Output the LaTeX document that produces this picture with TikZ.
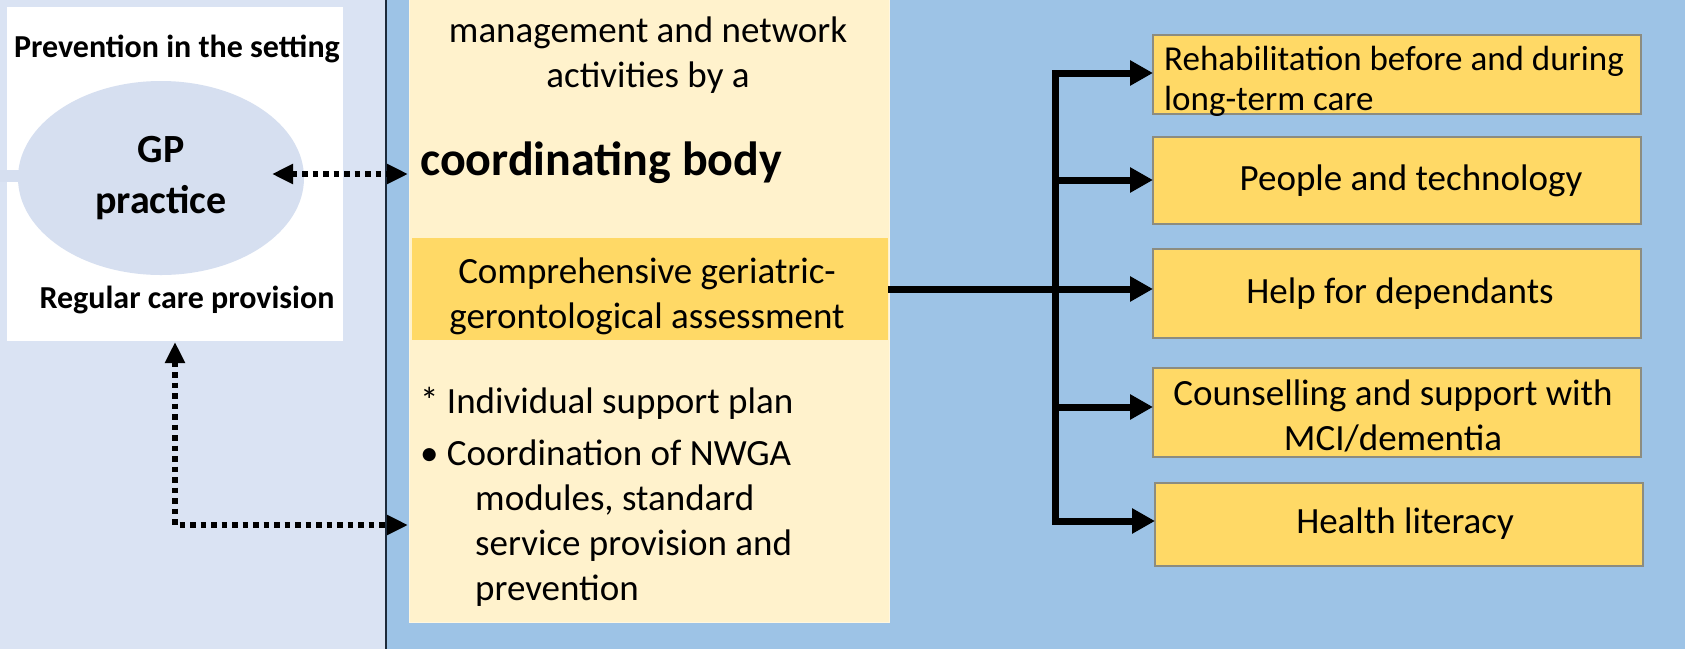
\documentclass[tikz,border=0pt]{standalone}
\usepackage{fontspec}
\setmainfont{Carlito}
\usetikzlibrary{arrows.meta,shapes.geometric}
\definecolor{panel}{HTML}{DAE3F3}
\definecolor{ellfill}{HTML}{D6DFF0}
\definecolor{midblue}{HTML}{9DC3E6}
\definecolor{lightyel}{HTML}{FFF2CC}
\definecolor{gold}{HTML}{FFD966}
\definecolor{boxedge}{HTML}{8C8C80}
\definecolor{divider}{HTML}{1C2A3A}
\begin{document}
\begin{tikzpicture}[x=1pt,y=-1pt,
  area/.style={inner sep=0pt, outer sep=0pt, anchor=north west},
  rbox/.style={area, draw=boxedge, line width=1.2pt, fill=gold, minimum width=488pt},
  t37/.style={inner sep=0pt, anchor=base, font=\fontsize{37}{45}\selectfont},
  t35/.style={inner sep=0pt, anchor=base west, font=\fontsize{35}{42}\selectfont},
  b32/.style={inner sep=0pt, anchor=base, font=\fontsize{32}{38}\selectfont\bfseries},
  b40/.style={inner sep=0pt, anchor=base, font=\fontsize{40}{48}\selectfont\bfseries},
  b48/.style={inner sep=0pt, anchor=base west, font=\fontsize{48}{56}\selectfont\bfseries},
  bigarrow/.style={line width=7pt, line join=miter, -{Triangle[length=23pt,width=24pt]}},
  dotline/.style={line width=5.5pt, dash pattern=on 5.5pt off 5pt},
  dotarrows/.style={{Triangle[length=21pt,width=19pt]}-{Triangle[length=21pt,width=19pt]}}
]
\useasboundingbox (0,0) rectangle (1685,649);
% backgrounds
\fill[panel] (0,0) rectangle (386,649);
\fill[midblue] (386,0) rectangle (1685,649);
\draw[divider, line width=2pt] (386,0) -- (386,649);

% left panel
\node[area, fill=white, minimum width=336pt, minimum height=334pt] (setting) at (7,7) {};
\fill[ellfill] (0,170) rectangle (20,182);
\node[ellipse, fill=ellfill, inner sep=0pt, minimum width=286pt, minimum height=194pt] (gp) at (161,178) {};
\node[b32] (prev) at (177,57) {Prevention in the setting};
\node[b40] (gp1) at (161,162) {GP};
\node[b40] (gp2) at (161,213) {practice};
\node[b32] (reg) at (187,308) {Regular care provision};

% central column
\node[area, fill=lightyel, draw=lightyel!60!white, line width=1pt, minimum width=480pt, minimum height=640pt] (coord) at (409,-18) {};
\node[t37] (c1) at (648,42) {management and network};
\node[t37] (c2) at (648,87) {activities by a};
\node[b48] (cb) at (420,175) {coordinating body};
\node[area, fill=gold, minimum width=476pt, minimum height=102pt] (cga) at (412,238) {};
\node[t37] (g1) at (647,283) {Comprehensive geriatric-};
\node[t37] (g2) at (647,328) {gerontological assessment};
\node[t37, anchor=base west] (l1) at (420,413) {* Individual support plan};
\node[t37, anchor=base west] (l2) at (420,465) {• Coordination of NWGA};
\node[t37, anchor=base west] (l3) at (475,510) {modules, standard};
\node[t37, anchor=base west] (l4) at (475,555) {service provision and};
\node[t37, anchor=base west] (l5) at (475,600) {prevention};

% right boxes
\node[rbox, minimum height=79pt] (r1) at (1153,35) {};
\node[rbox, minimum height=87pt] (r2) at (1153,137) {};
\node[rbox, minimum height=89pt] (r3) at (1153,249) {};
\node[rbox, minimum height=89pt] (r4) at (1153,368) {};
\node[rbox, minimum height=83pt] (r5) at (1155,483) {};
\node[t35] (r1a) at (1164,70) {Rehabilitation before and during};
\node[t35] (r1b) at (1164,110) {long-term care};
\node[t37] (r2a) at (1411,190) {People and technology};
\node[t37] (r3a) at (1400,303) {Help for dependants};
\node[t37] (r4a) at (1393,405) {Counselling and support with};
\node[t37] (r4b) at (1393,450) {MCI/dementia};
\node[t37] (r5a) at (1405,533) {Health literacy};

% connectors
\coordinate (mid) at (1055,289);
\draw[bigarrow] (mid) |- (r1.west |- 0,73);
\draw[bigarrow] (mid) |- (r5.west |- 0,521);
\draw[bigarrow] (1055,180) -- (r2.west |- 0,180);
\draw[bigarrow] (cga.east |- mid) -- (r3.west |- mid);
\draw[bigarrow] (1055,407) -- (r4.west |- 0,407);

% dotted arrows
\coordinate (dl) at (272,174);
\coordinate (dr) at (408,174);
\draw[dotline, dotarrows] (dl) -- (dr);
\coordinate (up) at (175,342);
\coordinate (right) at (408,525);
\draw[dotline, line join=miter, dotarrows] (up) |- (right);
\end{tikzpicture}
\end{document}
